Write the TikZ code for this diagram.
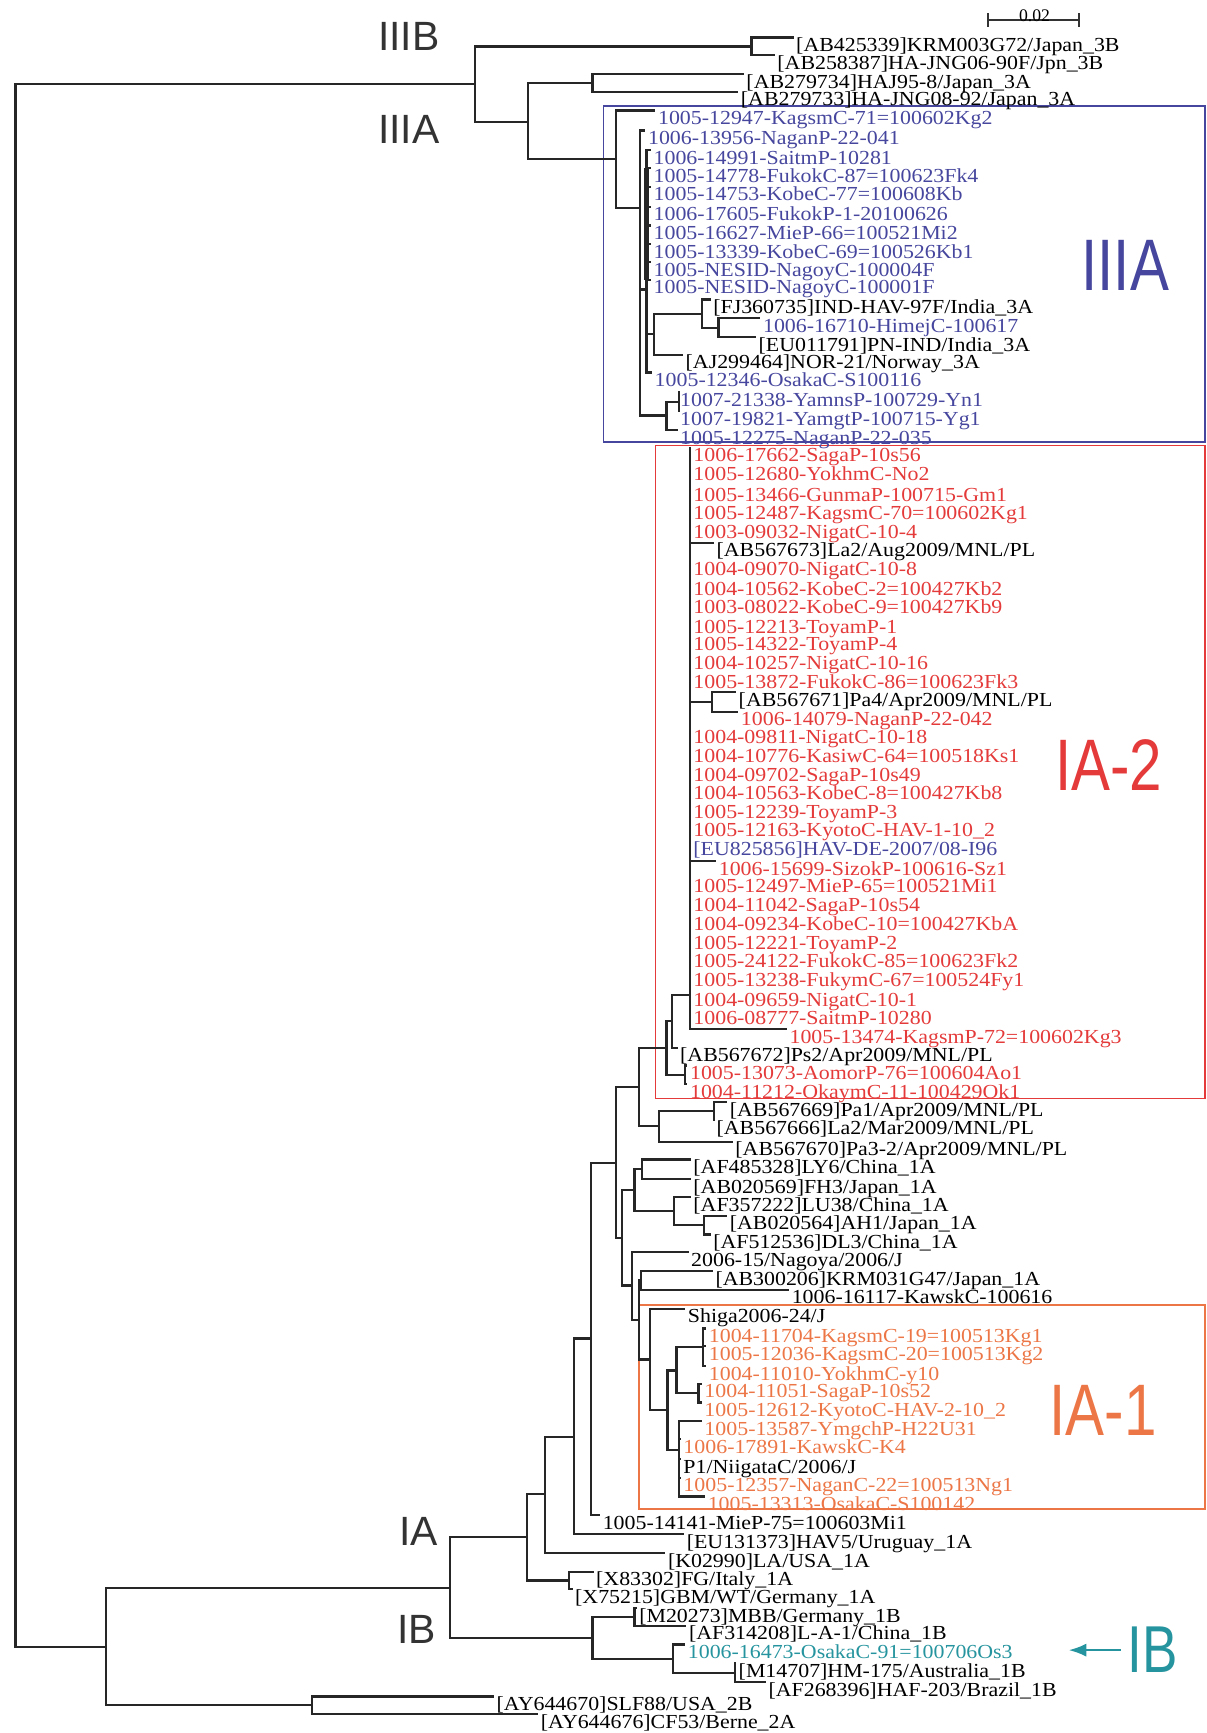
\documentclass[tikz,border=0pt]{standalone}
\usepackage{fontspec}
\setmainfont{Liberation Serif}
\newfontfamily\leaffont[FakeStretch=1.1]{Liberation Serif}
\newfontfamily\cladefont{Liberation Sans}
\newfontfamily\bigcladefont[FakeStretch=0.8]{Liberation Sans}
\usetikzlibrary{arrows.meta}
\definecolor{tblue}{RGB}{70,70,158}
\definecolor{tred}{RGB}{228,58,58}
\definecolor{torange}{RGB}{236,118,70}
\definecolor{tteal}{RGB}{38,148,158}

\begin{document}
\begin{tikzpicture}[x=0.5pt,y=-0.5pt,
  leaf/.style={anchor=north west,inner xsep=1pt,inner ysep=0pt,text height=6.2pt,text depth=1.8pt,font=\leaffont\fontsize{9}{9}\selectfont},
  bleaf/.style={leaf,text=tblue},
  rleaf/.style={leaf,text=tred},
  oleaf/.style={leaf,text=torange},
  tleaf/.style={leaf,text=tteal},
  br/.style={draw=black!85,line width=1pt},
  grp/.style={draw=#1,line width=0.8pt},
  clade/.style={font=\cladefont\fontsize{18.5}{19}\selectfont,text=black!80,inner sep=0pt},
  bigclade/.style={font=\bigcladefont\fontsize{#1}{#1}\selectfont,inner sep=0pt}]
  \useasboundingbox (0,0) rectangle (1092,1568);
  % ---------- cluster boxes
  \draw[grp=tblue] (546,96) rectangle (1090,400);
  \draw[grp=tred] (593,403) rectangle (1090,994);
  \draw[grp=torange] (578,1181) rectangle (1090,1365);
  % ---------- genotype labels
  \node[clade] (lIIIB) at (370,33) {IIIB};
  \node[clade] (lIIIA) at (370,117) {IIIA};
  \node[clade] (lIA) at (379,1386) {IA};
  \node[clade] (lIB) at (377,1474) {IB};
  \node[bigclade=33,text=tblue] (bIIIA) at (1018,240) {IIIA};
  \node[bigclade=33,text=tred] (bIA2) at (1003,692) {IA-2};
  \node[bigclade=33,text=torange] (bIA1) at (998,1276) {IA-1};
  \node[bigclade=30,text=tteal] (bIB) at (1043,1493) {IB};
  \coordinate (ibtip) at (967,1493);
  \draw[tteal,line width=1pt,shorten <=3pt,-{Latex[length=8pt,width=6pt]}] (bIB) -- (ibtip);
  % ---------- scale bar
  \coordinate (sbl) at (893,18); \coordinate (sbr) at (977,18);
  \draw[black!80,line width=0.8pt,{Bar[width=6pt]}-{Bar[width=6pt]}] (sbl) -- (sbr);
  \node[font=\fontsize{8}{8}\selectfont,inner sep=0pt] (sblab) at (936,14) {0.02};
  % ---------- inner nodes
  \coordinate (root) at (14,784);
  \coordinate (nIII) at (430,76);
  \coordinate (nIIIB) at (680,42);
  \coordinate (nIIIA) at (478,110.5);
  \coordinate (nJp) at (536,75);
  \coordinate (nb1) at (557,144);
  \coordinate (nb2) at (579,188);
  \coordinate (nb3) at (585,262);
  \coordinate (nb4) at (592,302.5);
  \coordinate (nb5) at (635,284);
  \coordinate (nb6) at (650,296.5);
  \coordinate (nb7) at (603,376);
  \coordinate (nb8) at (614,363.5);
  \coordinate (nr1) at (624,900);
  \coordinate (nr2) at (644,635);
  \coordinate (nr3) at (608,924);
  \coordinate (nr4) at (603,948);
  \coordinate (nr5) at (620,972.5);
  \coordinate (nm1) at (578,983.5);
  \coordinate (nm2) at (596,1019);
  \coordinate (nm3) at (646,1005.5);
  \coordinate (nc0) at (574,1077);
  \coordinate (nc1) at (581,1058);
  \coordinate (nc2) at (610,1096);
  \coordinate (nc3) at (637,1108.5);
  \coordinate (nz) at (557,1052);
  \coordinate (nk) at (563,1120);
  \coordinate (nu) at (572,1163);
  \coordinate (nv) at (578,1194);
  \coordinate (nq) at (580,1158.5);
  \coordinate (no0) at (588,1230);
  \coordinate (no1) at (604,1276);
  \coordinate (no2) at (612,1240);
  \coordinate (no3) at (636,1219);
  \coordinate (no4) at (632,1260.5);
  \coordinate (no5) at (614,1312);
  \coordinate (ny) at (535,1211);
  \coordinate (nx) at (519,1300);
  \coordinate (nw) at (493,1352);
  \coordinate (nIA) at (477,1391);
  \coordinate (nIA2) at (515,1430);
  \coordinate (nI) at (407,1436.5);
  \coordinate (nIB) at (536,1482);
  \coordinate (nIB1) at (574,1463);
  \coordinate (nIB2) at (609,1501);
  \coordinate (nIB3) at (665,1513.5);
  \coordinate (nII) at (282,1543);
  \coordinate (nbase) at (96,1490);
  % ---------- genotype III
  \node[leaf] (l1) at (718,34) {[AB425339]KRM003G72/Japan\_3B};
  \node[leaf] (l2) at (701,50) {[AB258387]HA-JNG06-90F/Jpn\_3B};
  \node[leaf] (l3) at (673,67) {[AB279734]HAJ95-8/Japan\_3A};
  \node[leaf] (l4) at (668,83) {[AB279733]HA-JNG08-92/Japan\_3A};
  \node[bleaf] (l5) at (593,100) {1005-12947-KagsmC-71=100602Kg2};
  \node[bleaf] (l6) at (584,118) {1006-13956-NaganP-22-041};
  \node[bleaf] (l7) at (589,136) {1006-14991-SaitmP-10281};
  \node[bleaf] (l8) at (589,152) {1005-14778-FukokC-87=100623Fk4};
  \node[bleaf] (l9) at (589,169) {1005-14753-KobeC-77=100608Kb};
  \node[bleaf] (l10) at (589,187) {1006-17605-FukokP-1-20100626};
  \node[bleaf] (l11) at (589,204) {1005-16627-MieP-66=100521Mi2};
  \node[bleaf] (l12) at (589,221) {1005-13339-KobeC-69=100526Kb1};
  \node[bleaf] (l13) at (589,237) {1005-NESID-NagoyC-100004F};
  \node[bleaf] (l14) at (589,253) {1005-NESID-NagoyC-100001F};
  \node[leaf] (l15) at (643,271) {[FJ360735]IND-HAV-97F/India\_3A};
  \node[bleaf] (l16) at (688,288) {1006-16710-HimejC-100617};
  \node[leaf] (l17) at (684,305) {[EU011791]PN-IND/India\_3A};
  \node[leaf] (l18) at (618,321) {[AJ299464]NOR-21/Norway\_3A};
  \node[bleaf] (l19) at (590,337) {1005-12346-OsakaC-S100116};
  \node[bleaf] (l20) at (613,355) {1007-21338-YamnsP-100729-Yn1};
  \node[bleaf] (l21) at (613,372) {1007-19821-YamgtP-100715-Yg1};
  \node[bleaf] (l22) at (613,389) {1005-12275-NaganP-22-035};
  % ---------- IA-2
  \node[rleaf] (l23) at (625,405) {1006-17662-SagaP-10s56};
  \node[rleaf] (l24) at (625,422) {1005-12680-YokhmC-No2};
  \node[rleaf] (l25) at (625,441) {1005-13466-GunmaP-100715-Gm1};
  \node[rleaf] (l26) at (625,457) {1005-12487-KagsmC-70=100602Kg1};
  \node[rleaf] (l27) at (625,474) {1003-09032-NigatC-10-4};
  \node[leaf] (l28) at (646,491) {[AB567673]La2/Aug2009/MNL/PL};
  \node[rleaf] (l29) at (625,508) {1004-09070-NigatC-10-8};
  \node[rleaf] (l30) at (625,526) {1004-10562-KobeC-2=100427Kb2};
  \node[rleaf] (l31) at (625,542) {1003-08022-KobeC-9=100427Kb9};
  \node[rleaf] (l32) at (625,560) {1005-12213-ToyamP-1};
  \node[rleaf] (l33) at (625,576) {1005-14322-ToyamP-4};
  \node[rleaf] (l34) at (625,593) {1004-10257-NigatC-10-16};
  \node[rleaf] (l35) at (625,610) {1005-13872-FukokC-86=100623Fk3};
  \node[leaf] (l36) at (666,626) {[AB567671]Pa4/Apr2009/MNL/PL};
  \node[rleaf] (l37) at (668,644) {1006-14079-NaganP-22-042};
  \node[rleaf] (l38) at (625,660) {1004-09811-NigatC-10-18};
  \node[rleaf] (l39) at (625,677) {1004-10776-KasiwC-64=100518Ks1};
  \node[rleaf] (l40) at (625,694) {1004-09702-SagaP-10s49};
  \node[rleaf] (l41) at (625,711) {1004-10563-KobeC-8=100427Kb8};
  \node[rleaf] (l42) at (625,728) {1005-12239-ToyamP-3};
  \node[rleaf] (l43) at (625,744) {1005-12163-KyotoC-HAV-1-10\_2};
  \node[bleaf] (l44) at (625,761) {[EU825856]HAV-DE-2007/08-I96};
  \node[rleaf] (l45) at (648,779) {1006-15699-SizokP-100616-Sz1};
  \node[rleaf] (l46) at (625,795) {1005-12497-MieP-65=100521Mi1};
  \node[rleaf] (l47) at (625,812) {1004-11042-SagaP-10s54};
  \node[rleaf] (l48) at (625,829) {1004-09234-KobeC-10=100427KbA};
  \node[rleaf] (l49) at (625,846) {1005-12221-ToyamP-2};
  \node[rleaf] (l50) at (625,863) {1005-24122-FukokC-85=100623Fk2};
  \node[rleaf] (l51) at (625,880) {1005-13238-FukymC-67=100524Fy1};
  \node[rleaf] (l52) at (625,898) {1004-09659-NigatC-10-1};
  \node[rleaf] (l53) at (625,914) {1006-08777-SaitmP-10280};
  \node[rleaf] (l54) at (712,931) {1005-13474-KagsmP-72=100602Kg3};
  \node[leaf] (l55) at (613,948) {[AB567672]Ps2/Apr2009/MNL/PL};
  \node[rleaf] (l56) at (622,964) {1005-13073-AomorP-76=100604Ao1};
  \node[rleaf] (l57) at (622,981) {1004-11212-OkaymC-11-100429Ok1};
  % ---------- other IA
  \node[leaf] (l58) at (658,997) {[AB567669]Pa1/Apr2009/MNL/PL};
  \node[leaf] (l59) at (646,1014) {[AB567666]La2/Mar2009/MNL/PL};
  \node[leaf] (l60) at (663,1033) {[AB567670]Pa3-2/Apr2009/MNL/PL};
  \node[leaf] (l61) at (625,1049) {[AF485328]LY6/China\_1A};
  \node[leaf] (l62) at (625,1067) {[AB020569]FH3/Japan\_1A};
  \node[leaf] (l63) at (625,1083) {[AF357222]LU38/China\_1A};
  \node[leaf] (l64) at (658,1100) {[AB020564]AH1/Japan\_1A};
  \node[leaf] (l65) at (643,1117) {[AF512536]DL3/China\_1A};
  \node[leaf] (l66) at (623,1133) {2006-15/Nagoya/2006/J};
  \node[leaf] (l67) at (645,1150) {[AB300206]KRM031G47/Japan\_1A};
  \node[leaf] (l68) at (714,1167) {1006-16117-KawskC-100616};
  % ---------- IA-1
  \node[leaf] (l69) at (620,1184) {Shiga2006-24/J};
  \node[oleaf] (l70) at (639,1202) {1004-11704-KagsmC-19=100513Kg1};
  \node[oleaf] (l71) at (639,1218) {1005-12036-KagsmC-20=100513Kg2};
  \node[oleaf] (l72) at (639,1236) {1004-11010-YokhmC-y10};
  \node[oleaf] (l73) at (635,1252) {1004-11051-SagaP-10s52};
  \node[oleaf] (l74) at (635,1269) {1005-12612-KyotoC-HAV-2-10\_2};
  \node[oleaf] (l75) at (635,1286) {1005-13587-YmgchP-H22U31};
  \node[oleaf] (l76) at (616,1302) {1006-17891-KawskC-K4};
  \node[leaf] (l77) at (616,1320) {P1/NiigataC/2006/J};
  \node[oleaf] (l78) at (616,1337) {1005-12357-NaganC-22=100513Ng1};
  \node[oleaf] (l79) at (638,1354) {1005-13313-OsakaC-S100142};
  % ---------- IA root, IB, genotype II
  \node[leaf] (l80) at (543,1371) {1005-14141-MieP-75=100603Mi1};
  \node[leaf] (l81) at (619,1388) {[EU131373]HAV5/Uruguay\_1A};
  \node[leaf] (l82) at (602,1405) {[K02990]LA/USA\_1A};
  \node[leaf] (l83) at (537,1422) {[X83302]FG/Italy\_1A};
  \node[leaf] (l84) at (518,1438) {[X75215]GBM/WT/Germany\_1A};
  \node[leaf] (l85) at (576,1455) {[M20273]MBB/Germany\_1B};
  \node[leaf] (l86) at (621,1471) {[AF314208]L-A-1/China\_1B};
  \node[tleaf] (l87) at (620,1488) {1006-16473-OsakaC-91=100706Os3};
  \node[leaf] (l88) at (666,1505) {[M14707]HM-175/Australia\_1B};
  \node[leaf] (l89) at (693,1522) {[AF268396]HAF-203/Brazil\_1B};
  \node[leaf] (l90) at (447,1535) {[AY644670]SLF88/USA\_2B};
  \node[leaf] (l91) at (487,1551) {[AY644676]CF53/Berne\_2A};
  % ---------- branches
  \draw[br] (root) |- (nIII) (root) |- (nbase);
  \draw[br] (nIII) |- (nIIIB) (nIII) |- (nIIIA);
  \draw[br] (nIIIB) |- (l1.north west) (nIIIB) |- (l2.north west);
  \draw[br] (nIIIA) |- (nJp) (nIIIA) |- (nb1);
  \draw[br] (nJp) |- (l3.north west) (nJp) |- (l4.north west);
  \draw[br] (nb1) |- (l5.north west) (nb1) |- (nb2);
  \draw[br] (nb2) |- (l6.north west) (nb2) |- (nb3) (nb2) |- (nb7);
  \draw[br] (nb3) |- (l7.north west) (nb3) |- (l8.north west) (nb3) |- (l9.north west)
    (nb3) |- (l10.north west) (nb3) |- (l11.north west) (nb3) |- (l12.north west)
    (nb3) |- (l13.north west) (nb3) |- (l14.north west) (nb3) |- (nb4) (nb3) |- (l19.north west);
  \draw[br,line width=2pt] (nb3 |- l8.north west) -- (nb3 |- l14.north west);
  \draw[br] (nb4) |- (nb5) (nb4) |- (l18.north west);
  \draw[br] (nb5) |- (l15.north west) (nb5) |- (nb6);
  \draw[br] (nb6) |- (l16.north west) (nb6) |- (l17.north west);
  \draw[br] (nb7) |- (nb8) (nb7) |- (l22.north west);
  \draw[br] (nb8) |- (l20.north west) (nb8) |- (l21.north west);
  \draw[br] (nr1) |- (l23.north west) (nr1) |- (l24.north west) (nr1) |- (l25.north west)
    (nr1) |- (l26.north west) (nr1) |- (l27.north west) (nr1) |- (l28.north west)
    (nr1) |- (l29.north west) (nr1) |- (l30.north west) (nr1) |- (l31.north west)
    (nr1) |- (l32.north west) (nr1) |- (l33.north west) (nr1) |- (l34.north west)
    (nr1) |- (l35.north west) (nr1) |- (nr2) (nr1) |- (l38.north west)
    (nr1) |- (l39.north west) (nr1) |- (l40.north west) (nr1) |- (l41.north west)
    (nr1) |- (l42.north west) (nr1) |- (l43.north west) (nr1) |- (l44.north west)
    (nr1) |- (l45.north west) (nr1) |- (l46.north west) (nr1) |- (l47.north west)
    (nr1) |- (l48.north west) (nr1) |- (l49.north west) (nr1) |- (l50.north west)
    (nr1) |- (l51.north west) (nr1) |- (l52.north west) (nr1) |- (l53.north west)
    (nr1) |- (l54.north west);
  \draw[br] (nr2) |- (l36.north west) (nr2) |- (l37.north west);
  \draw[br] (nr3) |- (nr1) (nr3) |- (l55.north west);
  \draw[br] (nr4) |- (nr3) (nr4) |- (nr5);
  \draw[br] (nr5) |- (l56.north west) (nr5) |- (l57.north west);
  \draw[br] (nm1) |- (nr4) (nm1) |- (nm2);
  \draw[br] (nm2) |- (nm3) (nm2) |- (l60.north west);
  \draw[br] (nm3) |- (l58.north west) (nm3) |- (l59.north west);
  \draw[br] (nz) |- (nm1) (nz) |- (nk);
  \draw[br] (nk) |- (nc0) (nk) |- (nu);
  \draw[br] (nc0) |- (nc1) (nc0) |- (nc2);
  \draw[br] (nc1) |- (l61.north west) (nc1) |- (l62.north west);
  \draw[br] (nc2) |- (l63.north west) (nc2) |- (nc3);
  \draw[br] (nc3) |- (l64.north west) (nc3) |- (l65.north west);
  \draw[br] (nu) |- (l66.north west) (nu) |- (nv);
  \draw[br] (nv) |- (nq) (nv) |- (no0);
  \draw[br] (nq) |- (l67.north west) (nq) |- (l68.north west);
  \draw[br] (no0) |- (l69.north west) (no0) |- (no1);
  \draw[br] (no1) |- (no2) (no1) |- (no5);
  \draw[br] (no2) |- (no3) (no2) |- (no4);
  \draw[br] (no3) |- (l70.north west) (no3) |- (l71.north west) (no3) |- (l72.north west);
  \draw[br] (no4) |- (l73.north west) (no4) |- (l74.north west);
  \draw[br] (no5) |- (l75.north west) (no5) |- (l76.north west) (no5) |- (l77.north west)
    (no5) |- (l78.north west) (no5) |- (l79.north west);
  \draw[br] (ny) |- (nz) (ny) |- (l80.north west);
  \draw[br] (nx) |- (ny) (nx) |- (l81.north west);
  \draw[br] (nw) |- (nx) (nw) |- (l82.north west);
  \draw[br] (nIA) |- (nw) (nIA) |- (nIA2);
  \draw[br] (nIA2) |- (l83.north west) (nIA2) |- (l84.north west);
  \draw[br] (nI) |- (nIA) (nI) |- (nIB);
  \draw[br] (nIB) |- (nIB1) (nIB) |- (nIB2);
  \draw[br] (nIB1) |- (l85.north west) (nIB1) |- (l86.north west);
  \draw[br] (nIB2) |- (l87.north west) (nIB2) |- (nIB3);
  \draw[br] (nIB3) |- (l88.north west) (nIB3) |- (l89.north west);
  \draw[br] (nbase) |- (nI) (nbase) |- (nII);
  \draw[br] (nII) |- (l90.north west) (nII) |- (l91.north west);
\end{tikzpicture}
\end{document}
